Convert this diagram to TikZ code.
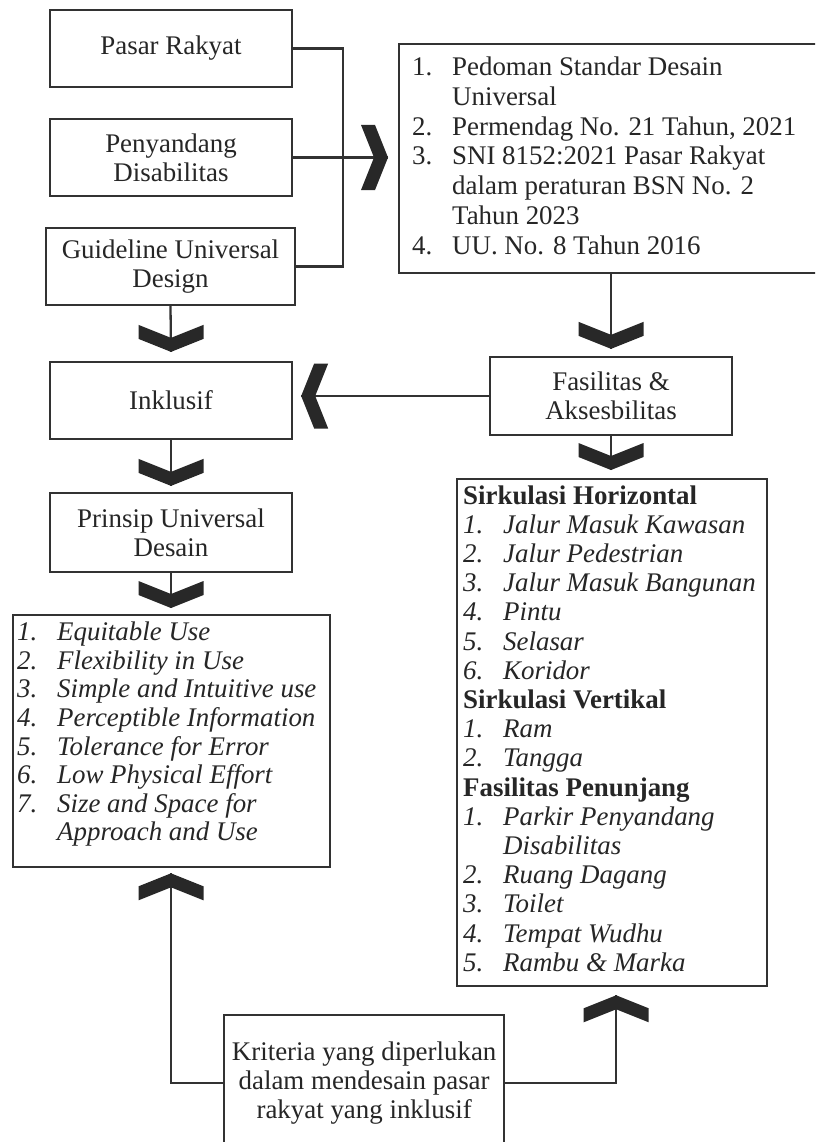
\documentclass[tikz,border=0pt]{standalone}
\usepackage{fontspec}
\setmainfont{Liberation Serif}
\usepackage{array}
\usetikzlibrary{calc}
\definecolor{ink}{RGB}{50,50,50}
\definecolor{txt}{RGB}{38,38,38}
\definecolor{chevcol}{RGB}{40,40,40}
\newcommand\myfs{\fontsize{26.9}{29.2}\selectfont}
\newcommand\reffs{\fontsize{26.9}{29.8}\selectfont}
\newcommand\prinfs{\fontsize{26.9}{28.6}\selectfont}
\begin{document}
\begin{tikzpicture}[x=1pt,y=-1pt,
  box/.style={draw=ink, line width=2.3pt, rectangle, inner sep=0pt, text=txt, align=center, font=\myfs},
  conn/.style={draw=ink, line width=2.3pt},
  lst/.style={anchor=north west, inner sep=0pt, text=txt},
  chev/.pic={\fill[chevcol] (0,0) -- (-13,-32.5) -- (-27,-32.5) -- (-14,0) -- (-27,32.5) -- (-13,32.5) -- cycle;}
]
\useasboundingbox[fill=white] (0,0) rectangle (815,1142);
\clip (0,0) rectangle (815,1142);

% boxes
\node[box, minimum width=242, minimum height=77] (pasar) at (171,48.5) {Pasar Rakyat};
\node[box, minimum width=242, minimum height=77] (peny) at (171,157.5) {Penyandang\\Disabilitas};
\node[box, minimum width=249, minimum height=77] (guide) at (170.5,266.5) {Guideline Universal\\Design};
\node[box, minimum width=242, minimum height=77] (inkl) at (171,400.5) {Inklusif};
\node[box, minimum width=242, minimum height=79] (prin) at (171,532.5) {Prinsip Universal\\Desain};
\node[box, minimum width=242, minimum height=78] (fas) at (611,396) {Fasilitas \&\\Aksesbilitas};
\node[box, minimum width=422, minimum height=229, anchor=north west] (ref) at (398,43) {};
\node[box, minimum width=317, minimum height=252, anchor=north west] (prinlist) at (12,614) {};
\node[box, minimum width=310, minimum height=507, anchor=north west] (faslist) at (456,478) {};
\node[box, minimum width=280, minimum height=136, anchor=north west] (krit) at (223,1014) {Kriteria yang diperlukan\\dalam mendesain pasar\\rakyat yang inklusif};

% list texts
\node[lst, font=\reffs] (reftxt) at (412,54.5) {%
\begin{tabular}{@{}p{40pt}@{}l@{}}
1. & Pedoman Standar Desain\\
   & Universal\\
2. & Permendag No. 21 Tahun, 2021\\
3. & SNI 8152:2021 Pasar Rakyat\\
   & dalam peraturan BSN No. 2\\
   & Tahun 2023\\
4. & UU. No. 8 Tahun 2016
\end{tabular}};

\node[lst, font=\prinfs\itshape] (printxt) at (17,620.5) {%
\begin{tabular}{@{}p{40pt}@{}l@{}}
1. & Equitable Use\\
2. & Flexibility in Use\\
3. & Simple and Intuitive use\\
4. & Perceptible Information\\
5. & Tolerance for Error\\
6. & Low Physical Effort\\
7. & Size and Space for\\
   & Approach and Use
\end{tabular}};

\node[lst, font=\myfs\itshape] (fastxt) at (463,483.5) {%
\begin{tabular}{@{}p{40pt}@{}l@{}}
\multicolumn{2}{@{}l@{}}{\upshape\bfseries Sirkulasi Horizontal}\\
1. & Jalur Masuk Kawasan\\
2. & Jalur Pedestrian\\
3. & Jalur Masuk Bangunan\\
4. & Pintu\\
5. & Selasar\\
6. & Koridor\\
\multicolumn{2}{@{}l@{}}{\upshape\bfseries Sirkulasi Vertikal}\\
1. & Ram\\
2. & Tangga\\
\multicolumn{2}{@{}l@{}}{\upshape\bfseries Fasilitas Penunjang}\\
1. & Parkir Penyandang\\
   & Disabilitas\\
2. & Ruang Dagang\\
3. & Toilet\\
4. & Tempat Wudhu\\
5. & Rambu \& Marka
\end{tabular}};

% chevron tip coordinates
\coordinate (t1) at ($(peny.east -| ref.west)+(-10,0)$);
\coordinate (t2) at ($(inkl.north)+(0,-9)$);
\coordinate (t3) at ($(fas.north)+(0,-7)$);
\coordinate (t4) at ($(fas.west -| inkl.east)+(8,0)$);
\coordinate (t5) at ($(prin.north)+(0,-6)$);
\coordinate (t6) at ($(prinlist.north -| prin.south)+(0,-6)$);
\coordinate (t7) at ($(faslist.north -| fas.south)+(0,-8)$);
\coordinate (t8) at ($(prinlist.south -| prin.south)+(0,5)$);
\coordinate (t9) at ($(faslist.south)+(4,8)$);

% connectors
\draw[conn] (pasar.east) -- ++(50,0) |- (guide.east);
\draw[conn] (peny.east) -- (t1);
\draw[conn] (guide.south) -- (t2);
\draw[conn] (ref.south -| fas.north) -- (t3);
\draw[conn] (fas.west) -- (t4);
\draw[conn] (inkl.south) -- (t5);
\draw[conn] (prin.south) -- (t6);
\draw[conn] (fas.south) -- (t7);
\draw[conn] (krit.west) -| (t8);
\draw[conn] (krit.east) -| (t9);

% chevrons
\pic at (t1) {chev};
\pic[rotate=-90] at (t2) {chev};
\pic[rotate=-90] at (t3) {chev};
\pic[rotate=180] at (t4) {chev};
\pic[rotate=-90] at (t5) {chev};
\pic[rotate=-90] at (t6) {chev};
\pic[rotate=-90] at (t7) {chev};
\pic[rotate=90] at (t8) {chev};
\pic[rotate=90] at (t9) {chev};
\end{tikzpicture}
\end{document}
